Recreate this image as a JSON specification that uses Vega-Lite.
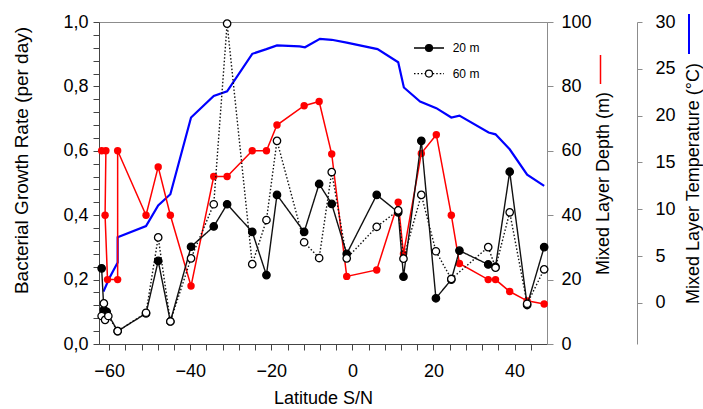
{
  "$schema": "https://vega.github.io/schema/vega-lite/v6.json",
  "width": 448,
  "height": 322,
  "autosize": {"type": "none"},
  "padding": {"left": 99, "top": 22, "right": 156, "bottom": 65},
  "background": "white",
  "config": {
    "font": "Liberation Sans",
    "view": {"stroke": "#8c8c8c", "strokeWidth": 1},
    "axis": {"grid": false, "labelFont": "Liberation Sans", "titleFont": "Liberation Sans", "labelColor": "#000", "titleColor": "#000", "titleFontWeight": "normal", "labelFontSize": 18, "titleFontSize": 18, "domainColor": "#555", "tickColor": "#555", "labelFlush": false, "labelOverlap": false},
    "legend": {"labelFont": "Liberation Sans", "labelColor": "#000"}
  },
  "datasets": {
    "growth": [
      {"lat": -61.85, "rate": 0.235, "series": "20 m", "m": 20},
      {"lat": -61.3, "rate": 0.106, "series": "20 m", "m": 20},
      {"lat": -60.6, "rate": 0.1, "series": "20 m", "m": 20},
      {"lat": -57.9, "rate": 0.04, "series": "20 m", "m": 20},
      {"lat": -50.9, "rate": 0.095, "series": "20 m", "m": 20},
      {"lat": -47.9, "rate": 0.258, "series": "20 m", "m": 20},
      {"lat": -44.9, "rate": 0.07, "series": "20 m", "m": 20},
      {"lat": -39.8, "rate": 0.302, "series": "20 m", "m": 20},
      {"lat": -34.2, "rate": 0.365, "series": "20 m", "m": 20},
      {"lat": -30.9, "rate": 0.434, "series": "20 m", "m": 20},
      {"lat": -24.7, "rate": 0.348, "series": "20 m", "m": 20},
      {"lat": -21.2, "rate": 0.214, "series": "20 m", "m": 20},
      {"lat": -18.6, "rate": 0.463, "series": "20 m", "m": 20},
      {"lat": -11.9, "rate": 0.348, "series": "20 m", "m": 20},
      {"lat": -8.2, "rate": 0.497, "series": "20 m", "m": 20},
      {"lat": -5.1, "rate": 0.435, "series": "20 m", "m": 20},
      {"lat": -1.4, "rate": 0.28, "series": "20 m", "m": 20},
      {"lat": 6.0, "rate": 0.463, "series": "20 m", "m": 20},
      {"lat": 11.3, "rate": 0.409, "series": "20 m", "m": 20},
      {"lat": 12.6, "rate": 0.209, "series": "20 m", "m": 20},
      {"lat": 17.0, "rate": 0.631, "series": "20 m", "m": 20},
      {"lat": 20.6, "rate": 0.142, "series": "20 m", "m": 20},
      {"lat": 24.4, "rate": 0.2, "series": "20 m", "m": 20},
      {"lat": 26.4, "rate": 0.29, "series": "20 m", "m": 20},
      {"lat": 33.5, "rate": 0.247, "series": "20 m", "m": 20},
      {"lat": 35.3, "rate": 0.24, "series": "20 m", "m": 20},
      {"lat": 38.8, "rate": 0.535, "series": "20 m", "m": 20},
      {"lat": 43.1, "rate": 0.121, "series": "20 m", "m": 20},
      {"lat": 47.3, "rate": 0.301, "series": "20 m", "m": 20},
      {"lat": -61.85, "rate": 0.087, "series": "60 m", "m": 60},
      {"lat": -61.3, "rate": 0.126, "series": "60 m", "m": 60},
      {"lat": -61.0, "rate": 0.075, "series": "60 m", "m": 60},
      {"lat": -60.2, "rate": 0.087, "series": "60 m", "m": 60},
      {"lat": -57.9, "rate": 0.04, "series": "60 m", "m": 60},
      {"lat": -50.9, "rate": 0.097, "series": "60 m", "m": 60},
      {"lat": -47.9, "rate": 0.331, "series": "60 m", "m": 60},
      {"lat": -44.9, "rate": 0.07, "series": "60 m", "m": 60},
      {"lat": -39.8, "rate": 0.266, "series": "60 m", "m": 60},
      {"lat": -34.2, "rate": 0.434, "series": "60 m", "m": 60},
      {"lat": -30.9, "rate": 0.995, "series": "60 m", "m": 60},
      {"lat": -24.7, "rate": 0.248, "series": "60 m", "m": 60},
      {"lat": -21.2, "rate": 0.385, "series": "60 m", "m": 60},
      {"lat": -18.6, "rate": 0.631, "series": "60 m", "m": 60},
      {"lat": -11.9, "rate": 0.316, "series": "60 m", "m": 60},
      {"lat": -8.2, "rate": 0.267, "series": "60 m", "m": 60},
      {"lat": -5.1, "rate": 0.534, "series": "60 m", "m": 60},
      {"lat": -1.4, "rate": 0.266, "series": "60 m", "m": 60},
      {"lat": 6.0, "rate": 0.364, "series": "60 m", "m": 60},
      {"lat": 11.3, "rate": 0.415, "series": "60 m", "m": 60},
      {"lat": 12.6, "rate": 0.265, "series": "60 m", "m": 60},
      {"lat": 17.0, "rate": 0.463, "series": "60 m", "m": 60},
      {"lat": 20.6, "rate": 0.288, "series": "60 m", "m": 60},
      {"lat": 24.4, "rate": 0.202, "series": "60 m", "m": 60},
      {"lat": 33.5, "rate": 0.301, "series": "60 m", "m": 60},
      {"lat": 35.3, "rate": 0.237, "series": "60 m", "m": 60},
      {"lat": 38.8, "rate": 0.409, "series": "60 m", "m": 60},
      {"lat": 43.1, "rate": 0.125, "series": "60 m", "m": 60},
      {"lat": 47.3, "rate": 0.232, "series": "60 m", "m": 60}
    ],
    "depth": [
      {"i": 1, "lat": -61.85, "mld": 60},
      {"i": 2, "lat": -60.8, "mld": 60},
      {"i": 3, "lat": -61.0, "mld": 40},
      {"i": 4, "lat": -60.4, "mld": 20},
      {"i": 5, "lat": -57.9, "mld": 20},
      {"i": 6, "lat": -57.9, "mld": 60},
      {"i": 7, "lat": -50.9, "mld": 40},
      {"i": 8, "lat": -47.9, "mld": 55},
      {"i": 9, "lat": -44.9, "mld": 40},
      {"i": 10, "lat": -39.8, "mld": 18},
      {"i": 11, "lat": -34.2, "mld": 52},
      {"i": 12, "lat": -30.9, "mld": 52},
      {"i": 13, "lat": -24.7, "mld": 60},
      {"i": 14, "lat": -21.2, "mld": 60},
      {"i": 15, "lat": -18.6, "mld": 68},
      {"i": 16, "lat": -11.9, "mld": 74},
      {"i": 17, "lat": -8.2, "mld": 75.3},
      {"i": 18, "lat": -5.1, "mld": 59},
      {"i": 19, "lat": -1.4, "mld": 21},
      {"i": 20, "lat": 6.0, "mld": 23},
      {"i": 21, "lat": 11.3, "mld": 44},
      {"i": 22, "lat": 12.6, "mld": 28},
      {"i": 23, "lat": 17.0, "mld": 59.2},
      {"i": 24, "lat": 20.7, "mld": 65},
      {"i": 25, "lat": 24.4, "mld": 40},
      {"i": 26, "lat": 26.4, "mld": 25},
      {"i": 27, "lat": 33.5, "mld": 20},
      {"i": 28, "lat": 35.3, "mld": 20},
      {"i": 29, "lat": 38.8, "mld": 16.3},
      {"i": 30, "lat": 43.1, "mld": 13.4},
      {"i": 31, "lat": 47.3, "mld": 12.4}
    ],
    "temp": [
      {"i": 1, "lat": -61.4, "t": 1.2},
      {"i": 2, "lat": -60.0, "t": 2.6},
      {"i": 3, "lat": -57.9, "t": 4.3},
      {"i": 4, "lat": -57.9, "t": 7.0},
      {"i": 5, "lat": -50.9, "t": 8.2},
      {"i": 6, "lat": -47.9, "t": 10.4},
      {"i": 7, "lat": -44.9, "t": 11.6},
      {"i": 8, "lat": -39.8, "t": 19.8},
      {"i": 9, "lat": -34.2, "t": 22.1},
      {"i": 10, "lat": -30.9, "t": 22.6},
      {"i": 11, "lat": -24.7, "t": 26.6},
      {"i": 12, "lat": -21.2, "t": 27.1},
      {"i": 13, "lat": -18.6, "t": 27.5},
      {"i": 14, "lat": -13.0, "t": 27.4},
      {"i": 15, "lat": -11.7, "t": 27.3},
      {"i": 16, "lat": -8.0, "t": 28.2},
      {"i": 17, "lat": -5.1, "t": 28.1},
      {"i": 18, "lat": -1.4, "t": 27.8},
      {"i": 19, "lat": 6.2, "t": 27.1},
      {"i": 20, "lat": 11.3, "t": 25.7},
      {"i": 21, "lat": 12.7, "t": 23.0},
      {"i": 22, "lat": 16.7, "t": 21.5},
      {"i": 23, "lat": 20.7, "t": 20.8},
      {"i": 24, "lat": 24.4, "t": 19.8},
      {"i": 25, "lat": 26.4, "t": 20.0},
      {"i": 26, "lat": 33.6, "t": 18.2},
      {"i": 27, "lat": 35.3, "t": 18.0},
      {"i": 28, "lat": 38.8, "t": 16.4},
      {"i": 29, "lat": 43.1, "t": 13.7},
      {"i": 30, "lat": 47.3, "t": 12.5}
    ]
  },
  "encoding": {
    "x": {
      "field": "lat",
      "type": "quantitative",
      "scale": {"domain": [-62.5, 48], "nice": false, "zero": false},
      "axis": {
        "title": "Latitude S/N",
        "values": [-60, -56, -52, -48, -44, -40, -36, -32, -28, -24, -20, -16, -12, -8, -4, 0, 4, 8, 12, 16, 20, 24, 28, 32, 36, 40, 44],
        "labelExpr": "datum.value % 20 === 0 ? datum.label : ''",
        "tickSize": 6,
        "labelPadding": 12,
        "titlePadding": 9,
        "domainColor": "#444",
        "tickColor": "#444",
        "encode": {"ticks": {"update": {"y2": {"signal": "datum.value % 20 === 0 ? 6 : 3"}}}}
      }
    }
  },
  "resolve": {"scale": {"y": "independent"}},
  "layer": [
    {
      "data": {"name": "temp"},
      "mark": {"type": "line", "strokeWidth": 2.2},
      "encoding": {
        "y": {
          "field": "t",
          "type": "quantitative",
          "scale": {"domain": [-4.4, 30], "nice": false, "zero": false},
          "axis": {
            "orient": "right",
            "offset": 90,
            "title": "Mixed Layer Temperature (°C)",
            "titleAngle": 270,
            "titleBaseline": "top",
            "values": [0, 5, 10, 15, 20, 25, 30],
            "tickSize": 5,
            "labelPadding": 13,
            "titlePadding": 9,
            "domainColor": "#8c8c8c",
            "tickColor": "#8c8c8c"
          }
        },
        "order": {"field": "i", "type": "quantitative"},
        "color": {
          "datum": "T",
          "scale": {"range": ["#0000ff"]},
          "legend": {"orient": "none", "legendX": 569, "legendY": -9, "title": null, "padding": 0, "symbolType": "M0,-1V1", "symbolSize": 1600, "symbolStrokeWidth": 2, "labelExpr": "''", "labelOffset": 0}
        }
      }
    },
    {
      "data": {"name": "depth"},
      "encoding": {
        "y": {
          "field": "mld",
          "type": "quantitative",
          "scale": {"domain": [0, 100], "nice": false, "zero": false},
          "axis": {
            "orient": "right",
            "title": "Mixed Layer Depth (m)",
            "titleAngle": 270,
            "titleBaseline": "top",
            "values": [0, 20, 40, 60, 80, 100],
            "tickSize": 6,
            "labelPadding": 8,
            "titlePadding": 3,
            "domainColor": "#8c8c8c",
            "tickColor": "#8c8c8c"
          }
        },
        "order": {"field": "i", "type": "quantitative"}
      },
      "layer": [
        {
          "mark": {"type": "line", "strokeWidth": 1.5},
          "encoding": {
            "stroke": {
              "datum": "D",
              "scale": {"range": ["#ff0000"]},
              "legend": {"orient": "none", "legendX": 486, "legendY": 32, "title": null, "padding": 0, "symbolType": "M0,-1V1", "symbolSize": 841, "symbolStrokeWidth": 1.5, "labelExpr": "''", "labelOffset": 0}
            }
          }
        },
        {
          "mark": {"type": "point", "shape": "circle", "filled": true, "size": 55, "color": "#ff0000", "opacity": 1}
        }
      ]
    },
    {
      "data": {"name": "growth"},
      "encoding": {
        "y": {
          "field": "rate",
          "type": "quantitative",
          "scale": {"domain": [0, 1], "nice": false, "zero": false},
          "axis": {
            "orient": "left",
            "title": "Bacterial Growth Rate (per day)",
            "titleFontSize": 19,
            "titleY": 138,
            "values": [0, 0.04, 0.08, 0.12, 0.16, 0.2, 0.24, 0.28, 0.32, 0.36, 0.4, 0.44, 0.48, 0.52, 0.56, 0.6, 0.64, 0.68, 0.72, 0.76, 0.8, 0.84, 0.88, 0.92, 0.96, 1],
            "labelExpr": "abs(datum.value*5 - round(datum.value*5)) < 0.001 ? replace(format(datum.value, '.1f'), '.', ',') : ''",
            "tickSize": 6,
            "labelPadding": 5,
            "titlePadding": 31,
            "domainColor": "#444",
            "tickColor": "#444",
            "encode": {"ticks": {"update": {"x2": {"signal": "abs(datum.value*5 - round(datum.value*5)) < 0.001 ? -6 : -3"}}}}
          }
        }
      },
      "layer": [
        {
          "mark": {"type": "line", "strokeWidth": 1.4, "color": "#111"},
          "encoding": {
            "strokeDash": {
              "field": "series",
              "type": "nominal",
              "scale": {"domain": ["20 m", "60 m"], "range": [[1, 0], [1.5, 2]]},
              "legend": {"orient": "none", "legendX": 324, "legendY": 20, "title": null, "padding": 0, "symbolType": "M-3,0H-0.75M0.75,0H3", "symbolSize": 100, "symbolStrokeColor": "#000", "symbolStrokeWidth": 1.3, "labelFontSize": 12, "labelOffset": 17.7, "rowPadding": 13.6}
            }
          }
        },
        {
          "mark": {"type": "point", "shape": "circle", "size": 55, "stroke": "#000", "strokeWidth": 1.3, "opacity": 1},
          "encoding": {
            "fill": {
              "field": "m",
              "type": "nominal",
              "scale": {"domain": [20, 60], "range": ["#000000", "#ffffff"]},
              "legend": {"orient": "none", "legendX": 324, "legendY": 20, "title": null, "padding": 0, "zindex": 1, "symbolType": "M-0.7,0A0.7,0.7,0,1,1,0.7,0A0.7,0.7,0,1,1,-0.7,0Z", "symbolSize": 100, "symbolStrokeColor": "#000", "symbolStrokeWidth": 1.2, "labelFontSize": 12, "labelExpr": "''", "labelOffset": 17.7, "rowPadding": 13.6}
            }
          }
        }
      ]
    }
  ]
}
